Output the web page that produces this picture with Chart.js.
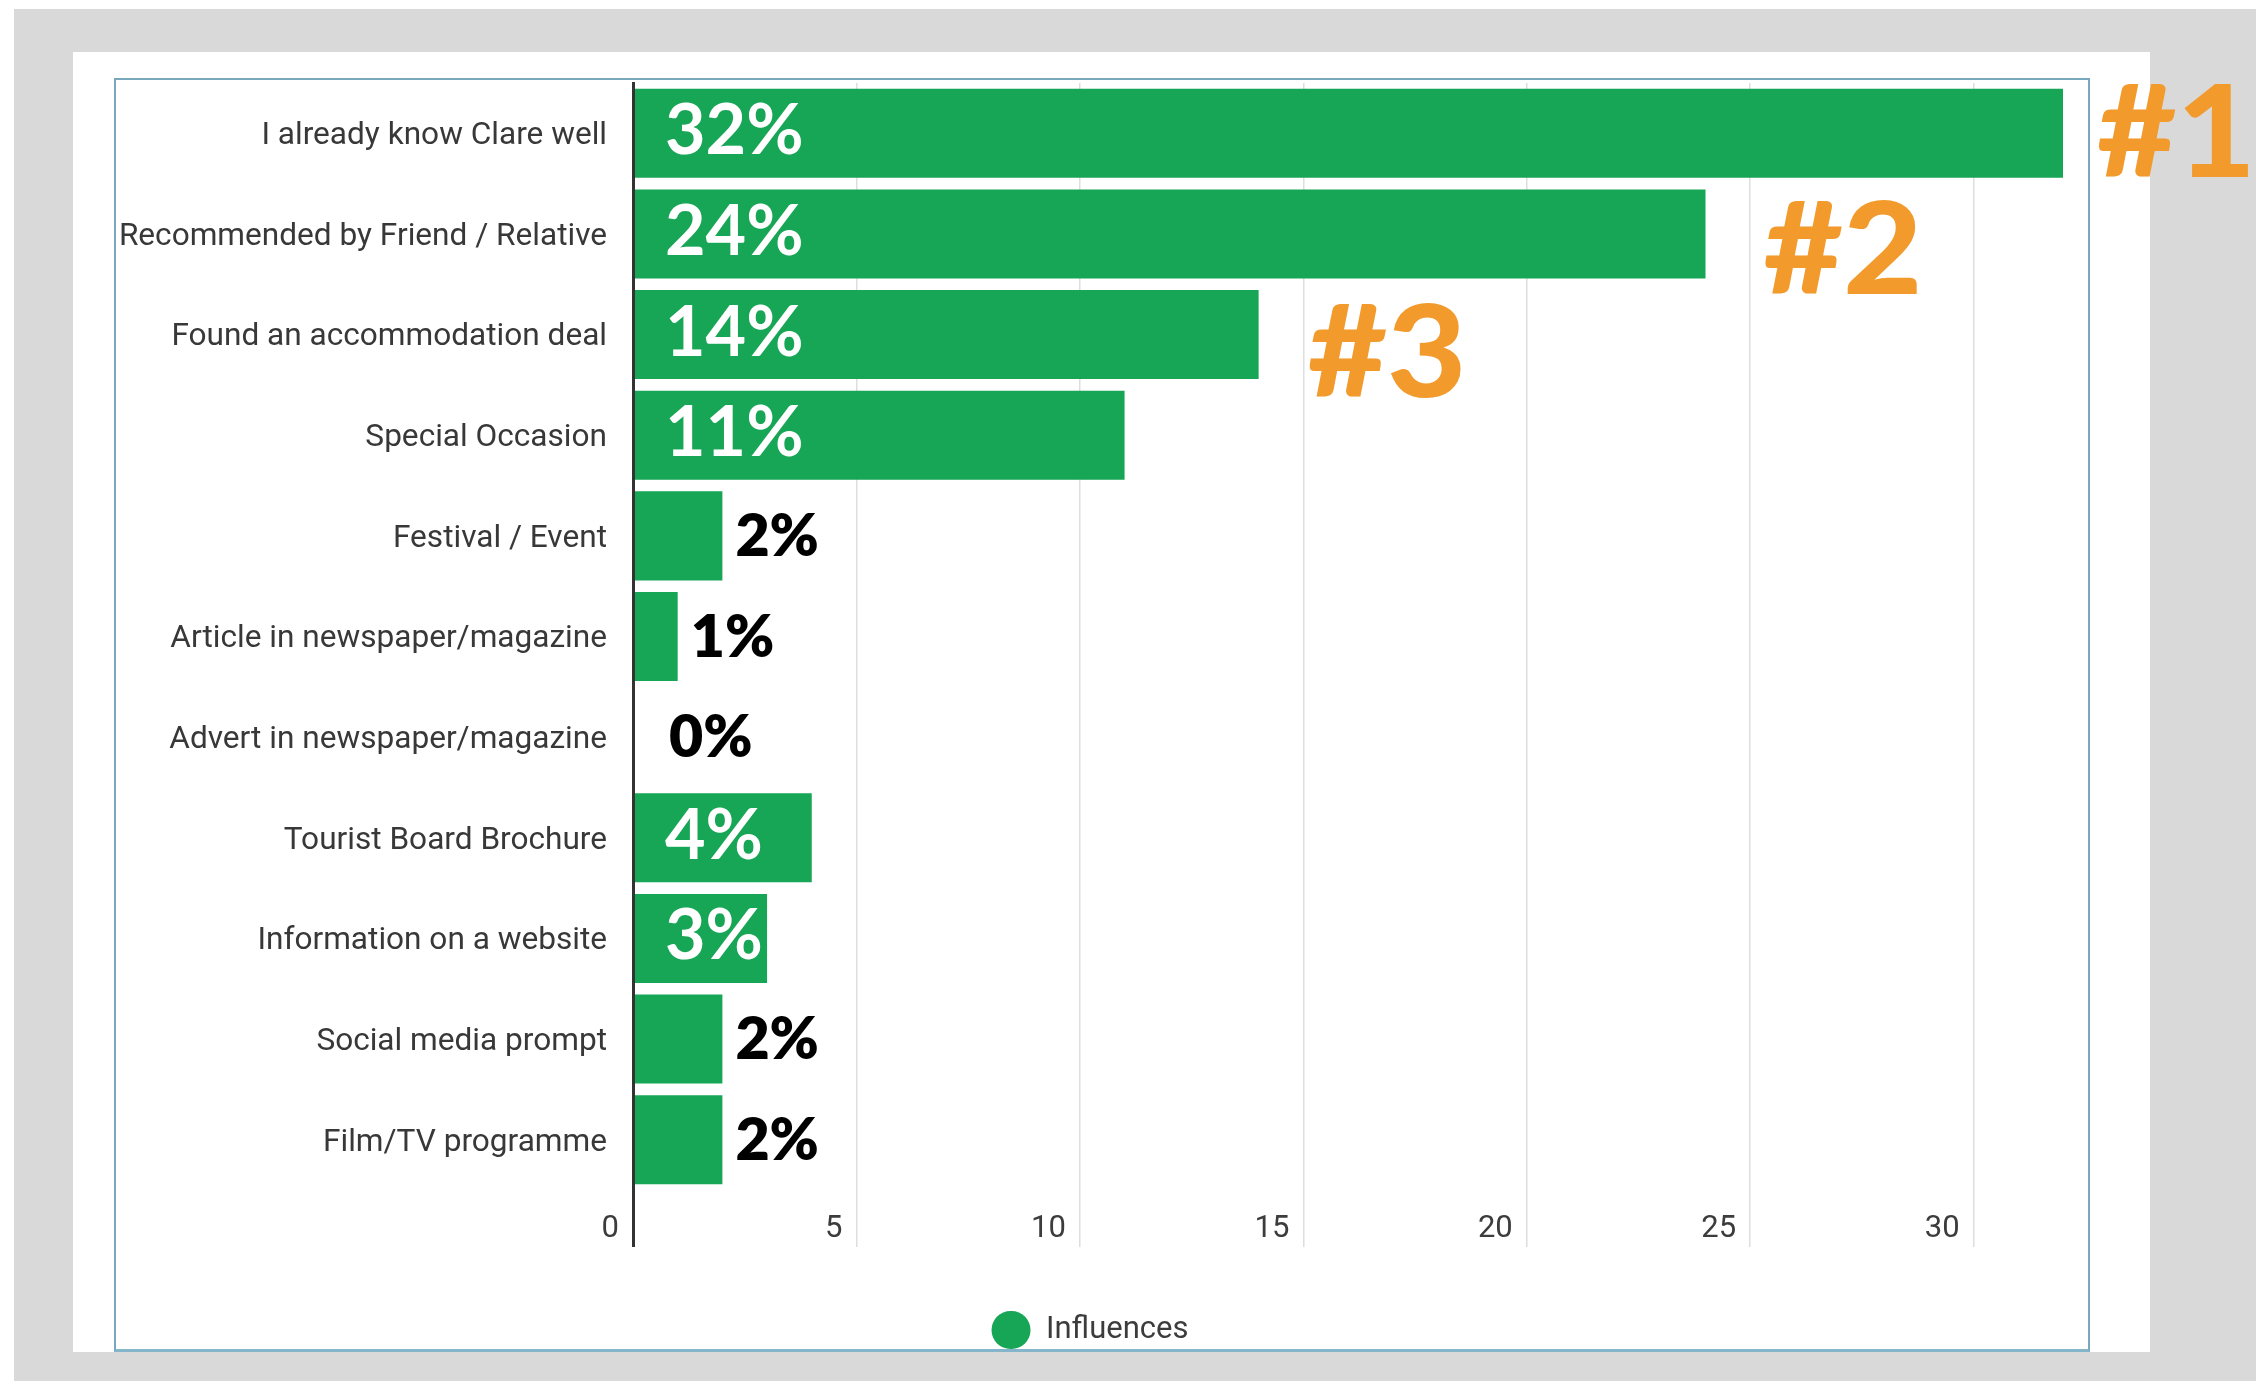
<!DOCTYPE html>
<html>
<head>
<meta charset="utf-8">
<title>Influences</title>
<script src="https://cdn.jsdelivr.net/npm/chart.js@4.4.1/dist/chart.umd.min.js"></script>
<style>
  html, body { margin: 0; padding: 0; background: #fff; overflow: hidden; }
  #grey { position: absolute; left: 14px; top: 9px; width: 2242px; height: 1372px; background: #d9d9d9; }
  #card { position: absolute; left: 73px; top: 52px; width: 2077px; height: 1300px; background: #fff; }
  #frame { position: absolute; left: 114px; top: 78px; width: 1976px; height: 1274px; box-sizing: border-box;
           border: 2px solid #78a8bc; border-bottom: 3px solid #84b5ca; }
  #wrap { position: absolute; left: 0; top: 0; width: 2256px; height: 1381px; }
</style>
</head>
<body>
<div id="grey"></div>
<div id="card"></div>
<div id="frame"></div>
<div id="wrap"><canvas id="grafico"></canvas></div>
<script>
// dados do gráfico
const categories = [
  "I already know Clare well",
  "Recommended by Friend / Relative",
  "Found an accommodation deal",
  "Special Occasion",
  "Festival / Event",
  "Article in newspaper/magazine",
  "Advert in newspaper/magazine",
  "Tourist Board Brochure",
  "Information on a website",
  "Social media prompt",
  "Film/TV programme"
];
const shares = [32, 24, 14, 11, 2, 1, 0, 4, 3, 2, 2];
const xTickValues = [0, 5, 10, 15, 20, 25, 30];
const rankLabels = ["#1", "#2", "#3"];

const GREEN = '#17a556';
const ORANGE = '#f29a2c';
const INSIDE_MIN = 3; // abaixo disso o rótulo vai fora da barra

Chart.defaults.font.family = 'Roboto';

// rótulos de percentagem e os destaques #1..#3
const barLabels = {
  id: 'barLabels',
  afterDatasetsDraw(chart) {
    const ctx = chart.ctx;
    const meta = chart.getDatasetMeta(0);
    const x0 = chart.scales.x.getPixelForValue(0);
    ctx.save();
    ctx.textAlign = 'left';
    ctx.textBaseline = 'alphabetic';
    meta.data.forEach((bar, i) => {
      const v = shares[i];
      const inside = v >= INSIDE_MIN;
      const size = inside ? 70 : 59;
      ctx.font = (inside ? '700 ' : '800 ') + size + 'px Lato';
      ctx.fillStyle = inside ? '#ffffff' : '#000000';
      const x = inside ? x0 + 32 : Math.max(bar.x + 13, x0 + 36);
      const lift = inside ? 4 : 1;
      ctx.fillText(v + '%', x, bar.y - lift + size * 0.7165 / 2);
    });

    // destaques ao lado das três maiores barras
    const rankOffsets = [[34, -2], [58, 14], [49, 17]];
    ctx.font = '900 128px Lato';
    ctx.fillStyle = ORANGE;
    rankLabels.forEach((txt, i) => {
      const bar = meta.data[i];
      const [dx, dy] = rankOffsets[i];
      ctx.save();
      ctx.translate(bar.x + dx, bar.y + dy + 128 * 0.7165 / 2);
      ctx.scale(1.07, 1);
      ctx.fillText(txt, 0, 0);
      ctx.restore();
    });
    ctx.restore();
  }
};

const canvas = document.getElementById('grafico');
const chart = new Chart(canvas.getContext('2d'), {
  type: 'bar',
  data: {
    labels: categories,
    datasets: [{
      label: 'Influences',
      data: shares,
      backgroundColor: GREEN,
      borderWidth: 0,
      barPercentage: 0.885,
      categoryPercentage: 1.0
    }]
  },
  options: {
    indexAxis: 'y',
    responsive: true,
    maintainAspectRatio: false,
    animation: false,
    devicePixelRatio: 1,
    layout: { padding: { left: 117, right: 193, top: 83, bottom: 22 } },
    plugins: {
      tooltip: { enabled: false },
      legend: {
        position: 'bottom',
        labels: {
          color: '#3c3c3c',
          font: { size: 31 },
          boxWidth: 39,
          boxHeight: 38,
          useBorderRadius: true,
          borderRadius: 19,
          padding: 10
        }
      }
    },
    scales: {
      y: {
        grid: { display: false },
        border: { display: true, color: '#333', width: 3, z: 1 },
        ticks: { color: '#383838', font: { size: 31.6 }, padding: 18, labelOffset: 3 },
        afterFit(scale) { scale.width = 516; }
      },
      x: {
        min: 0,
        max: 32,
        border: { display: false },
        grid: {
          color: c => (c.tick && c.tick.value === 0) ? '#333' : '#dedede',
          lineWidth: c => (c.tick && c.tick.value === 0) ? 3 : 1.5,
          tickLength: 57
        },
        ticks: {
          includeBounds: false,
          align: 'end',
          labelOffset: -14,
          padding: -36,
          color: '#3c3c3c',
          font: { size: 31 }
        },
        afterBuildTicks(scale) {
          scale.ticks = xTickValues.map(v => ({ value: v }));
        },
        afterFit(scale) { scale.height = 111; }
      }
    }
  },
  plugins: [barLabels]
});
</script>
</body>
</html>
